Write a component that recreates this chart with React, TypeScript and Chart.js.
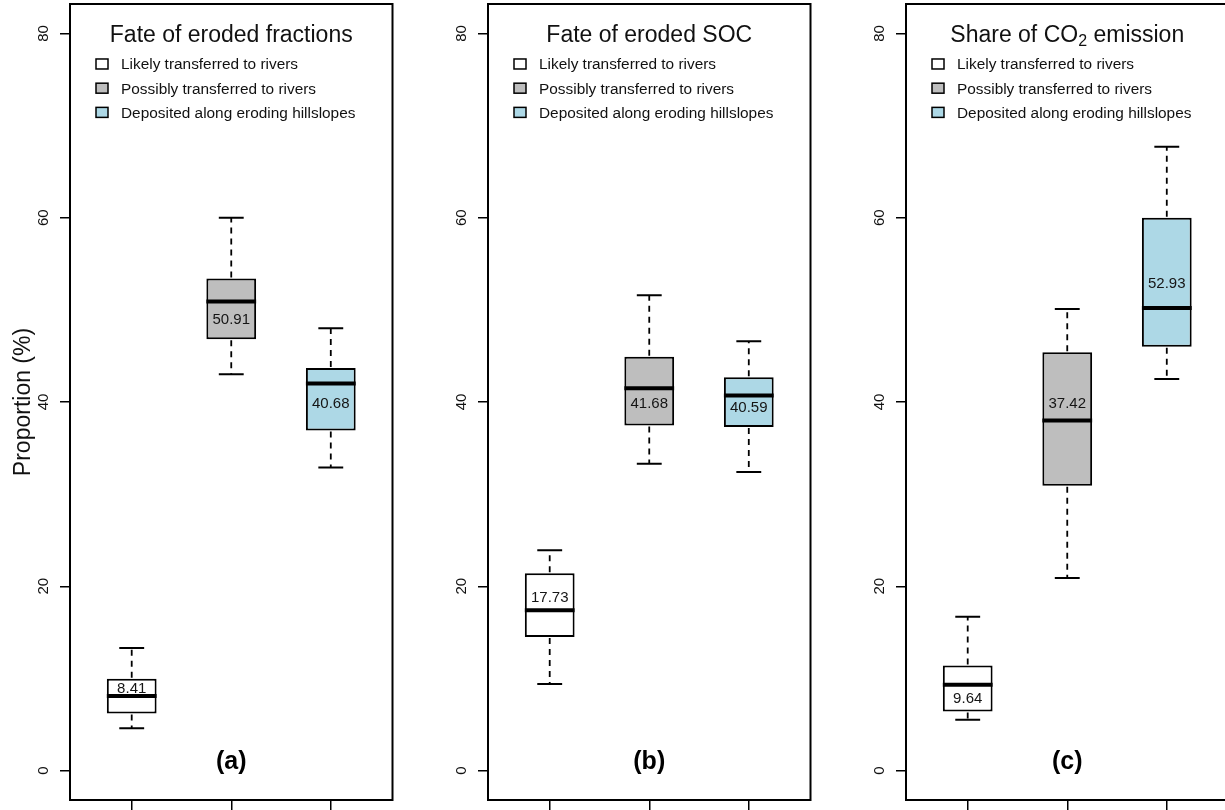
import React, { useEffect, useRef } from "react";
import { Chart, registerables } from "chart.js";

Chart.register(...registerables);

// ---------- data ----------
const categories = [
  "Likely transferred to rivers",
  "Possibly transferred to rivers",
  "Deposited along eroding hillslopes",
];
const boxColors = ["#FFFFFF", "#BEBEBE", "#ADD8E6"];
const xPositions = [1, 2, 3];
const yTicks = [0, 20, 40, 60, 80];
const yMin = -3.2;
const yMax = 83.2;
const yAxisTitle = "Proportion (%)";

// (a) Fate of eroded fractions
const fracLower = [4.6, 43.0, 32.9];
const fracQ1 = [6.2, 46.8, 36.9];
const fracMedian = [8.1, 50.9, 42.0];
const fracQ3 = [9.95, 53.4, 43.7];
const fracUpper = [13.3, 60.0, 48.0];
const fracMean = [8.41, 50.91, 40.68];
const fracLabelAt = [9.0, 49.0, 39.9];

// (b) Fate of eroded SOC
const socLower = [9.4, 33.3, 32.4];
const socQ1 = [14.5, 37.45, 37.3];
const socMedian = [17.4, 41.5, 40.7];
const socQ3 = [21.4, 44.9, 42.7];
const socUpper = [23.9, 51.6, 46.6];
const socMean = [17.73, 41.68, 40.59];
const socLabelAt = [18.9, 39.9, 39.5];

// (c) Share of CO2 emission
const co2Lower = [5.5, 20.9, 42.5];
const co2Q1 = [6.4, 30.9, 46.0];
const co2Median = [9.3, 38.0, 50.2];
const co2Q3 = [11.4, 45.4, 60.0];
const co2Upper = [16.7, 50.1, 67.7];
const co2Mean = [9.64, 37.42, 52.93];
const co2LabelAt = [7.95, 39.9, 53.0];

const titleAt = 80;
const letterAt = 0.9;

const FONT = "'Liberation Sans', Arial, Helvetica, sans-serif";

type Seg = { text: string; sub?: boolean };

type PanelProps = {
  left: number;
  lower: number[];
  q1: number[];
  median: number[];
  q3: number[];
  upper: number[];
  means: number[];
  labelAt: number[];
  title: Seg[];
  letter: string;
  showYTitle?: boolean;
};

function Panel(p: PanelProps) {
  const ref = useRef<HTMLCanvasElement | null>(null);

  useEffect(() => {
    const canvas = ref.current;
    if (!canvas) return;

    const decor = {
      id: "boxDecor",
      afterDatasetsDraw(chart: any) {
        const ctx: CanvasRenderingContext2D = chart.ctx;
        const xs = chart.scales.x;
        const ys = chart.scales.y;
        const area = chart.chartArea;
        const meta = chart.getDatasetMeta(0);
        ctx.save();

        // whiskers, caps, medians, labels
        for (let i = 0; i < xPositions.length; i++) {
          const cx = xs.getPixelForValue(xPositions[i]);
          const bw = meta.data[i].width;
          const yU = ys.getPixelForValue(p.upper[i]);
          const yL = ys.getPixelForValue(p.lower[i]);
          const yQ1 = ys.getPixelForValue(p.q1[i]);
          const yQ3 = ys.getPixelForValue(p.q3[i]);
          const yM = ys.getPixelForValue(p.median[i]);

          ctx.strokeStyle = "#000";
          ctx.lineWidth = 1.8;
          ctx.setLineDash([6, 5]);
          ctx.beginPath();
          ctx.moveTo(cx, yQ3 - 1);
          ctx.lineTo(cx, yU);
          ctx.moveTo(cx, yQ1 + 1);
          ctx.lineTo(cx, yL);
          ctx.stroke();
          ctx.setLineDash([]);

          ctx.lineWidth = 2;
          ctx.beginPath();
          ctx.moveTo(cx - bw / 4, yU);
          ctx.lineTo(cx + bw / 4, yU);
          ctx.moveTo(cx - bw / 4, yL);
          ctx.lineTo(cx + bw / 4, yL);
          ctx.stroke();

          ctx.lineWidth = 4;
          ctx.beginPath();
          ctx.moveTo(cx - bw / 2, yM);
          ctx.lineTo(cx + bw / 2, yM);
          ctx.stroke();

          ctx.fillStyle = "#151515";
          ctx.font = `15px ${FONT}`;
          ctx.textAlign = "center";
          ctx.textBaseline = "alphabetic";
          const ly = ys.getPixelForValue(p.labelAt[i]);
          ctx.fillText(p.means[i].toFixed(2), cx, ly + 0.358 * 15);
        }

        // frame
        ctx.strokeStyle = "#000";
        ctx.lineWidth = 2;
        ctx.strokeRect(area.left, area.top, area.right - area.left, area.bottom - area.top);

        const midX = (area.left + area.right) / 2;
        const tY = ys.getPixelForValue(titleAt);

        // title with optional subscript
        ctx.fillStyle = "#111";
        ctx.textAlign = "left";
        let total = 0;
        for (const s of p.title) {
          ctx.font = s.sub ? `16px ${FONT}` : `23px ${FONT}`;
          total += ctx.measureText(s.text).width;
        }
        let tx = midX - total / 2;
        const base = tY + 0.358 * 23;
        for (const s of p.title) {
          ctx.font = s.sub ? `16px ${FONT}` : `23px ${FONT}`;
          ctx.fillText(s.text, tx, s.sub ? base + 4 : base);
          tx += ctx.measureText(s.text).width;
        }

        // legend
        ctx.font = `15.4px ${FONT}`;
        for (let i = 0; i < categories.length; i++) {
          const rowY = tY + 30.5 + i * 24.2;
          ctx.fillStyle = boxColors[i];
          ctx.fillRect(area.left + 26, rowY - 5, 12, 10);
          ctx.lineWidth = 1.5;
          ctx.strokeStyle = "#000";
          ctx.strokeRect(area.left + 26, rowY - 5, 12, 10);
          ctx.fillStyle = "#111";
          ctx.fillText(categories[i], area.left + 51, rowY + 0.358 * 15.4);
        }

        // panel letter
        ctx.font = `bold 25px ${FONT}`;
        ctx.textAlign = "center";
        ctx.fillStyle = "#000";
        ctx.fillText(p.letter, midX, ys.getPixelForValue(letterAt) + 0.26 * 25);

        // y tick labels (rotated)
        ctx.font = `15px ${FONT}`;
        ctx.fillStyle = "#111";
        for (const v of yTicks) {
          const py = ys.getPixelForValue(v);
          ctx.save();
          ctx.translate(area.left - 27 + 0.358 * 15, py);
          ctx.rotate(-Math.PI / 2);
          ctx.textAlign = "center";
          ctx.fillText(String(v), 0, 0);
          ctx.restore();
        }

        // y axis title
        if (p.showYTitle) {
          ctx.save();
          ctx.font = `23px ${FONT}`;
          ctx.fillStyle = "#111";
          ctx.translate(area.left - 40.5, (area.top + area.bottom) / 2);
          ctx.rotate(-Math.PI / 2);
          ctx.textAlign = "center";
          ctx.fillText(yAxisTitle, 0, 0);
          ctx.restore();
        }

        ctx.restore();
      },
    };

    const chart = new Chart(canvas, {
      type: "bar",
      data: {
        datasets: [
          {
            label: "box",
            data: xPositions.map((x, i) => ({ x, y: [p.q1[i], p.q3[i]] })) as any,
            backgroundColor: boxColors,
            borderColor: "#000",
            borderWidth: 2,
            borderSkipped: false,
            barPercentage: 0.5,
            categoryPercentage: 1,
          } as any,
        ],
      },
      options: {
        animation: false,
        responsive: false,
        devicePixelRatio: 1,
        events: [],
        layout: { padding: { top: 4, right: 25.5, left: 0, bottom: 0 } },
        plugins: {
          legend: { display: false },
          tooltip: { enabled: false },
          title: { display: false },
        },
        scales: {
          x: {
            type: "linear",
            min: 0.38,
            max: 3.62,
            offset: false,
            afterBuildTicks: (s: any) => {
              s.ticks = xPositions.map((v) => ({ value: v }));
            },
            afterFit: (s: any) => {
              s.height = 10;
            },
            ticks: { display: false },
            grid: {
              offset: false,
              drawOnChartArea: false,
              drawTicks: true,
              tickLength: 10,
              color: "#000",
              lineWidth: 1.5,
            },
            border: { display: false },
          },
          y: {
            type: "linear",
            min: yMin,
            max: yMax,
            afterBuildTicks: (s: any) => {
              s.ticks = yTicks.map((v) => ({ value: v }));
            },
            afterFit: (s: any) => {
              s.width = 70;
            },
            ticks: { display: false },
            grid: {
              drawOnChartArea: false,
              drawTicks: true,
              tickLength: 10,
              color: "#000",
              lineWidth: 1.5,
            },
            border: { display: false },
          },
        } as any,
      },
      plugins: [decor],
    } as any);

    return () => chart.destroy();
  }, []);

  return (
    <canvas
      ref={ref}
      width={418}
      height={810}
      style={{ position: "absolute", left: p.left, top: 0, width: 418, height: 810 }}
    />
  );
}

export default function App() {
  return (
    <div
      style={{
        position: "fixed",
        left: 0,
        top: 0,
        width: 1225,
        height: 810,
        overflow: "hidden",
        background: "#fff",
      }}
    >
      <Panel
        left={0}
        lower={fracLower}
        q1={fracQ1}
        median={fracMedian}
        q3={fracQ3}
        upper={fracUpper}
        means={fracMean}
        labelAt={fracLabelAt}
        title={[{ text: "Fate of eroded fractions" }]}
        letter="(a)"
        showYTitle
      />
      <Panel
        left={418}
        lower={socLower}
        q1={socQ1}
        median={socMedian}
        q3={socQ3}
        upper={socUpper}
        means={socMean}
        labelAt={socLabelAt}
        title={[{ text: "Fate of eroded SOC" }]}
        letter="(b)"
      />
      <Panel
        left={836}
        lower={co2Lower}
        q1={co2Q1}
        median={co2Median}
        q3={co2Q3}
        upper={co2Upper}
        means={co2Mean}
        labelAt={co2LabelAt}
        title={[{ text: "Share of CO" }, { text: "2", sub: true }, { text: " emission" }]}
        letter="(c)"
      />
    </div>
  );
}
